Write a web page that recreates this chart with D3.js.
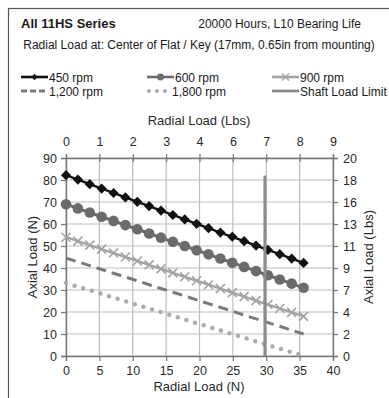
<!DOCTYPE html>
<html>
<head>
<meta charset="utf-8">
<script src="https://cdn.jsdelivr.net/npm/d3@7/dist/d3.min.js"></script>
<style>
    body { margin: 0; background: #fff; }
    svg { display: block; font-family: "Liberation Sans", Arial, sans-serif; }
</style>
</head>
<body>
<svg id="chart" width="389" height="398"></svg>
<script>
// radial load (N) at each point, 0 .. 8 lbs in 0.4 lb steps
let radialN = [0, 1.78, 3.56, 5.34, 7.12, 8.9, 10.68, 12.46, 14.23, 16.01, 17.79,
    19.57, 21.35, 23.13, 24.91, 26.69, 28.47, 30.25, 32.03, 33.81, 35.59];

// axial load (N)
let rpm450 = [82.2, 80.2, 78.1, 76.1, 74.1, 72.1, 70.1, 68.1, 66.1, 64.1, 62.1,
    60.1, 58.1, 56.1, 54.2, 52.2, 50.2, 48.2, 46.3, 44.3, 42.3];
let rpm600 = [69, 67.1, 65.2, 63.3, 61.4, 59.5, 57.6, 55.7, 53.8, 51.9, 50,
    48.1, 46.2, 44.3, 42.4, 40.5, 38.6, 36.7, 34.8, 32.9, 31];
let rpm900 = [54, 52.2, 50.4, 48.6, 46.8, 45, 43.2, 41.4, 39.6, 37.8, 36,
    34.2, 32.4, 30.6, 28.8, 27, 25.2, 23.4, 21.6, 19.8, 18];
let rpm1200 = [44.5, 42.8, 41.1, 39.3, 37.6, 35.9, 34.2, 32.4, 30.7, 29, 27.3,
    25.5, 23.8, 22.1, 20.4, 18.6, 16.9, 15.2, 13.5, 11.7, 10];
let rpm1800 = [33.2, 31.5, 29.9, 28.2, 26.6, 24.9, 23.2, 21.6, 19.9, 18.3, 16.6,
    14.9, 13.3, 11.6, 10, 8.3, 6.6, 5, 3.3, 1.7, 0];

// shaft load limit (vertical line)
let shaftX = [29.8, 29.8];
let shaftY = [0, 82];

// ticks
let bottomTicks = [0, 5, 10, 15, 20, 25, 30, 35, 40];
let topTickLabels = ['0', '1', '2', '3', '4', '6', '7', '8', '9'];
let leftTicks = [0, 10, 20, 30, 40, 50, 60, 70, 80, 90];
let rightTickLabels = ['0', '2', '4', '7', '9', '11', '13', '16', '18', '20'];

let svg = d3.select('#chart');

// outer frame (open to the right and bottom)
svg.append('rect')
    .attr('x', 8.5).attr('y', 8.5)
    .attr('width', 500).attr('height', 500)
    .attr('fill', 'none')
    .attr('stroke', '#555')
    .attr('stroke-width', 1.2);

// titles
svg.append('text')
    .attr('x', 21).attr('y', 28)
    .style('font-size', '13px').style('font-weight', 'bold')
    .attr('fill', '#1a1a1a')
    .text('All 11HS Series');

svg.append('text')
    .attr('x', 361).attr('y', 28)
    .attr('text-anchor', 'end')
    .style('font-size', '12px')
    .attr('fill', '#1a1a1a')
    .text('20000 Hours, L10 Bearing Life');

svg.append('text')
    .attr('x', 199).attr('y', 49)
    .attr('text-anchor', 'middle')
    .style('font-size', '12px')
    .attr('fill', '#1a1a1a')
    .text('Radial Load at: Center of Flat / Key (17mm, 0.65in from mounting)');

let x = d3.scaleLinear().domain([0, 40]).range([66, 333]);
let y = d3.scaleLinear().domain([0, 90]).range([356, 158]);

// grid
let grid = svg.append('g').attr('class', 'grid');
grid.selectAll('.gx')
    .data(bottomTicks)
    .enter().append('line')
    .attr('x1', d => x(d)).attr('x2', d => x(d))
    .attr('y1', y(0)).attr('y2', y(90))
    .attr('stroke', '#bdbdbd').attr('stroke-width', 1.2);
grid.selectAll('.gy')
    .data(leftTicks)
    .enter().append('line')
    .attr('x1', x(0)).attr('x2', x(40))
    .attr('y1', d => y(d)).attr('y2', d => y(d))
    .attr('stroke', '#bdbdbd').attr('stroke-width', 1.2);

// axes
function styleAxis(g) {
    g.selectAll('.domain').attr('stroke', '#777').attr('stroke-width', 1.4);
    g.selectAll('.tick line').attr('stroke', '#777').attr('stroke-width', 1.2);
    g.selectAll('.tick text').attr('fill', '#2a2a2a').style('font-size', '12.5px');
}

svg.append('g')
    .attr('transform', 'translate(0,' + y(0) + ')')
    .call(d3.axisBottom(x).tickValues(bottomTicks).tickSizeOuter(0).tickSize(5).tickPadding(5))
    .call(styleAxis)
    .attr('font-family', null);

let topAxis = svg.append('g')
    .attr('transform', 'translate(0,' + y(90) + ')')
    .call(d3.axisTop(x).tickValues(bottomTicks).tickSizeOuter(0).tickSize(4).tickPadding(8)
        .tickFormat((d, i) => topTickLabels[i]))
    .call(styleAxis)
    .attr('font-family', null);
topAxis.selectAll('.tick line').attr('y2', 4).attr('y1', -4);

svg.append('g')
    .attr('transform', 'translate(' + x(0) + ',0)')
    .call(d3.axisLeft(y).tickValues(leftTicks).tickSizeOuter(0).tickSize(5).tickPadding(4))
    .call(styleAxis)
    .attr('font-family', null);

svg.append('g')
    .attr('transform', 'translate(' + x(40) + ',0)')
    .call(d3.axisRight(y).tickValues(leftTicks).tickSizeOuter(0).tickSize(5).tickPadding(5)
        .tickFormat((d, i) => rightTickLabels[i]))
    .call(styleAxis)
    .attr('font-family', null);

// axis titles
svg.append('text')
    .attr('x', 199).attr('y', 391)
    .attr('text-anchor', 'middle')
    .style('font-size', '13px').attr('fill', '#2a2a2a')
    .text('Radial Load (N)');

svg.append('text')
    .attr('x', 199).attr('y', 125)
    .attr('text-anchor', 'middle')
    .style('font-size', '13px').attr('fill', '#2a2a2a')
    .text('Radial Load (Lbs)');

svg.append('text')
    .attr('transform', 'translate(37,257) rotate(-90)')
    .attr('text-anchor', 'middle')
    .style('font-size', '13px').attr('fill', '#2a2a2a')
    .text('Axial Load (N)');

svg.append('text')
    .attr('transform', 'translate(373,257) rotate(-90)')
    .attr('text-anchor', 'middle')
    .style('font-size', '13px').attr('fill', '#2a2a2a')
    .text('Axial Load (Lbs)');

// series
let series = [
    {name: '450 rpm', values: rpm450, color: '#111', width: 2.4, dash: null, marker: 'diamond'},
    {name: '600 rpm', values: rpm600, color: '#6b6b6b', width: 3, dash: null, marker: 'circle'},
    {name: '900 rpm', values: rpm900, color: '#a3a3a3', width: 2.4, dash: null, marker: 'cross'},
    {name: '1,200 rpm', values: rpm1200, color: '#7a7a7a', width: 3, dash: '10,6', marker: null},
    {name: '1,800 rpm', values: rpm1800, color: '#ababab', width: 4.5, dash: '0,9', marker: null}
];

let line = d3.line()
    .x(d => x(d[0]))
    .y(d => y(d[1]));

let diamond = d3.symbol().type(d3.symbolSquare).size(52);
let crossPath = 'M-4.5,-4.5L4.5,4.5M-4.5,4.5L4.5,-4.5';

function drawMarker(g, s, cx, cy) {
    if (s.marker === 'diamond') {
        g.append('path')
            .attr('d', diamond())
            .attr('transform', 'translate(' + cx + ',' + cy + ') rotate(45)')
            .attr('fill', s.color);
    } else if (s.marker === 'circle') {
        g.append('circle')
            .attr('cx', cx).attr('cy', cy).attr('r', 5.3)
            .attr('fill', s.color);
    } else if (s.marker === 'cross') {
        g.append('path')
            .attr('d', crossPath)
            .attr('transform', 'translate(' + cx + ',' + cy + ')')
            .attr('fill', 'none')
            .attr('stroke', s.color)
            .attr('stroke-width', 1.6);
    }
}

let plot = svg.append('g').attr('class', 'plot');

// draw from back to front so the upper curves sit on top
series.slice().reverse().forEach(s => {
    let pts = radialN.map((r, i) => [r, s.values[i]]);
    let g = plot.append('g');
    g.append('path')
        .attr('d', line(pts))
        .attr('fill', 'none')
        .attr('stroke', s.color)
        .attr('stroke-width', s.width)
        .attr('stroke-linecap', s.dash === '0,9' ? 'round' : 'butt')
        .attr('stroke-dasharray', s.dash);
    if (s.marker) {
        pts.forEach(p => drawMarker(g, s, x(p[0]), y(p[1])));
    }
});

plot.append('path')
    .attr('d', line(shaftX.map((v, i) => [v, shaftY[i]])))
    .attr('stroke', '#8c8c8c')
    .attr('stroke-width', 3)
    .attr('fill', 'none');

// legend
let legendItems = [
    {s: series[0], col: 0, row: 0},
    {s: series[1], col: 1, row: 0},
    {s: series[2], col: 2, row: 0},
    {s: series[3], col: 0, row: 1},
    {s: series[4], col: 1, row: 1},
    {s: {name: 'Shaft Load Limit', color: '#8c8c8c', width: 3, dash: null, marker: null}, col: 2, row: 1}
];
let colX = [21, 147, 272];
let rowY = [77, 91];

let legend = svg.append('g').attr('class', 'legend');
legendItems.forEach(item => {
    let s = item.s;
    let lx = colX[item.col], ly = rowY[item.row];
    let g = legend.append('g');
    let x2 = lx + 27;
    if (s.dash === '0,9') {
        x2 = lx + 20;
    }
    g.append('line')
        .attr('x1', lx + (s.dash === '0,9' ? 2 : 0)).attr('x2', x2)
        .attr('y1', ly).attr('y2', ly)
        .attr('stroke', s.color)
        .attr('stroke-width', s.marker ? 2.6 : (s.dash === '0,9' ? 4 : 2.8))
        .attr('stroke-linecap', s.dash === '0,9' ? 'round' : 'butt')
        .attr('stroke-dasharray', s.dash === '0,9' ? '0,8' : (s.dash ? '6,3' : null));
    if (s.marker === 'diamond') {
        g.append('path')
            .attr('d', d3.symbol().type(d3.symbolSquare).size(20)())
            .attr('transform', 'translate(' + (lx + 13.5) + ',' + ly + ') rotate(45)')
            .attr('fill', s.color);
    } else if (s.marker === 'circle') {
        g.append('circle').attr('cx', lx + 13.5).attr('cy', ly).attr('r', 3.4).attr('fill', s.color);
    } else if (s.marker === 'cross') {
        g.append('path')
            .attr('d', 'M-3.5,-3.5L3.5,3.5M-3.5,3.5L3.5,-3.5')
            .attr('transform', 'translate(' + (lx + 13.5) + ',' + ly + ')')
            .attr('stroke', s.color).attr('stroke-width', 1.3).attr('fill', 'none');
    }
    g.append('text')
        .attr('x', lx + (s.dash === '0,9' ? 25 : 28))
        .attr('y', ly + 4.5)
        .style('font-size', '12px')
        .attr('fill', '#1a1a1a')
        .text(s.name);
});
</script>
</body>
</html>
